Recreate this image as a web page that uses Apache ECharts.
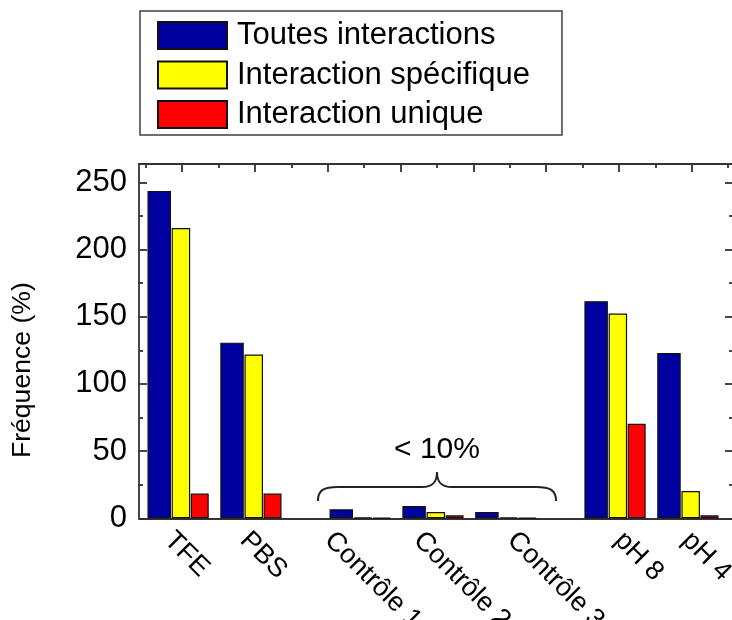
<!DOCTYPE html>
<html>
<head>
<meta charset="utf-8">
<script src="https://cdn.jsdelivr.net/npm/echarts@6/dist/echarts.min.js"></script>
<style>
  html, body { margin: 0; padding: 0; background: #fff; }
  #chart { width: 732px; height: 620px; }
</style>
</head>
<body>
<div id="chart"></div>
<script>
// ---- data ----
const categories = ['TFE', 'PBS', 'Contrôle 1', 'Contrôle 2', 'Contrôle 3', 'pH 8', 'pH 4'];
const seriesNames = ['Toutes interactions', 'Interaction spécifique', 'Interaction unique'];
const toutes = [243.5, 130.7, 6.7, 9.2, 4.7, 161.5, 123];
const specifique = [216, 121.8, 0.7, 4.7, 0.7, 152.3, 20.3];
const unique = [18.4, 18.4, 0.4, 2.2, 0.4, 70.4, 2.2];
const yTicks = [0, 50, 100, 150, 200, 250];
const braceText = '< 10%';

// ---- layout (x axis units: one group pitch) ----
const groupAt = [0, 1, 2.5, 3.5, 4.5, 6, 7];
const labelAt = [-0.13, 0.91, 2.07, 3.29, 4.58, 6.05, 6.98];
const X_MIN = -0.537, X_MAX = 7.62, Y_MAX = 263.6;
const braceSpan = [1.92, 5.19], braceLevel = 23.3;

const FONT = '"Liberation Sans", Arial, sans-serif';
const AX = { color: '#333', width: 1.8 };

const topMajor = [], topMinor = [];
for (let k = 0; k <= 7; k++) { topMajor.push(k + 0.054); topMinor.push(k - 0.446); }
topMinor.push(7.554);
const yMinor = yTicks.slice(0, -1).map(v => v + 25);

function tickAxis(base, values, len, showLine) {
  return Object.assign({
    type: 'value',
    axisLine: { show: showLine, onZero: false, lineStyle: AX },
    axisTick: { show: true, inside: true, length: len, customValues: values, lineStyle: AX },
    axisLabel: { show: false },
    splitLine: { show: false }
  }, base);
}

function barSeries(name, values, color, width) {
  return {
    type: 'bar',
    name: name,
    xAxisIndex: 0,
    yAxisIndex: 0,
    barWidth: width,
    barGap: '3%',
    data: values.map((v, i) => [groupAt[i], v]),
    itemStyle: { color: color, borderColor: '#111', borderWidth: 1.2 },
    emphasis: { disabled: true }
  };
}

const chart = echarts.init(document.getElementById('chart'), null, { renderer: 'canvas' });

chart.setOption({
  animation: false,
  backgroundColor: '#fff',
  textStyle: { fontFamily: FONT },
  grid: { left: 139, top: 164, width: 594, height: 354.3, outerBoundsMode: 'none' },
  legend: {
    data: seriesNames,
    orient: 'vertical',
    left: 140,
    top: 11,
    padding: [9, 32, 5, 17],
    itemWidth: 69,
    itemHeight: 27,
    itemGap: 8.5,
    icon: 'rect',
    selectedMode: false,
    borderColor: '#404040',
    borderWidth: 1.5,
    backgroundColor: '#fff',
    textStyle: { fontSize: 31, fontFamily: FONT, color: '#000', padding: [0, 0, 0, 5] }
  },
  xAxis: [
    {
      type: 'value',
      position: 'bottom',
      min: X_MIN,
      max: X_MAX,
      axisLine: { show: true, onZero: false, lineStyle: AX },
      axisTick: { show: false },
      splitLine: { show: false },
      axisLabel: {
        customValues: labelAt,
        rotate: -45,
        margin: 18,
        fontSize: 27,
        fontFamily: FONT,
        color: '#000',
        formatter: function (v) {
          let best = 0;
          labelAt.forEach((p, i) => { if (Math.abs(p - v) < Math.abs(labelAt[best] - v)) best = i; });
          return categories[best];
        }
      }
    },
    tickAxis({ position: 'top', min: X_MIN, max: X_MAX }, topMajor, 8, true),
    tickAxis({ position: 'top', min: X_MIN, max: X_MAX }, topMinor, 4, false)
  ],
  yAxis: [
    {
      type: 'value',
      position: 'left',
      min: 0,
      max: Y_MAX,
      name: 'Fréquence (%)',
      nameLocation: 'middle',
      nameGap: 103,
      nameTextStyle: { fontSize: 26.6, fontFamily: FONT, color: '#000', padding: [0, 58, 0, 0] },
      axisLine: { show: true, onZero: false, lineStyle: AX },
      axisTick: { show: true, inside: true, length: 8, customValues: yTicks, lineStyle: AX },
      axisLabel: { customValues: yTicks, fontSize: 31, margin: 12, fontFamily: FONT, color: '#000' },
      splitLine: { show: false }
    },
    tickAxis({ position: 'left', min: 0, max: Y_MAX }, yMinor, 4, false),
    tickAxis({ position: 'right', min: 0, max: Y_MAX }, yTicks, 8, true),
    tickAxis({ position: 'right', min: 0, max: Y_MAX }, yMinor, 4, false)
  ],
  series: [
    barSeries(seriesNames[0], toutes, '#0000a0', 23.5),
    barSeries(seriesNames[1], specifique, '#ffff00', 18.5),
    barSeries(seriesNames[2], unique, '#ff0000', 18),
    {
      type: 'custom',
      xAxisIndex: 0,
      yAxisIndex: 0,
      silent: true,
      z: 5,
      data: [[braceSpan[0], braceSpan[1], braceLevel]],
      renderItem: function (params, api) {
        const a = api.coord([api.value(0), api.value(2)]);
        const b = api.coord([api.value(1), api.value(2)]);
        const x0 = a[0], x1 = b[0], y = a[1], xm = (x0 + x1) / 2;
        const drop = 14, rise = 15, r = 20, c = 15;
        const st = { stroke: '#222', lineWidth: 2, fill: 'none' };
        return {
          type: 'group',
          children: [
            { type: 'bezierCurve', shape: { x1: x0, y1: y + drop, cpx1: x0, cpy1: y + 3, cpx2: x0 + 6, cpy2: y, x2: x0 + r, y2: y }, style: st },
            { type: 'line', shape: { x1: x0 + r, y1: y, x2: xm - c, y2: y }, style: st },
            { type: 'bezierCurve', shape: { x1: xm - c, y1: y, cpx1: xm - 5, cpy1: y, cpx2: xm, cpy2: y - 4, x2: xm, y2: y - rise }, style: st },
            { type: 'bezierCurve', shape: { x1: xm, y1: y - rise, cpx1: xm, cpy1: y - 4, cpx2: xm + 5, cpy2: y, x2: xm + c, y2: y }, style: st },
            { type: 'line', shape: { x1: xm + c, y1: y, x2: x1 - r, y2: y }, style: st },
            { type: 'bezierCurve', shape: { x1: x1 - r, y1: y, cpx1: x1 - 6, cpy1: y, cpx2: x1, cpy2: y + 3, x2: x1, y2: y + drop }, style: st },
            {
              type: 'text',
              x: xm,
              y: y - rise - 22,
              style: { text: braceText, fontSize: 30, fontFamily: FONT, fill: '#000', align: 'center', verticalAlign: 'middle' }
            }
          ]
        };
      }
    }
  ]
});
</script>
</body>
</html>
